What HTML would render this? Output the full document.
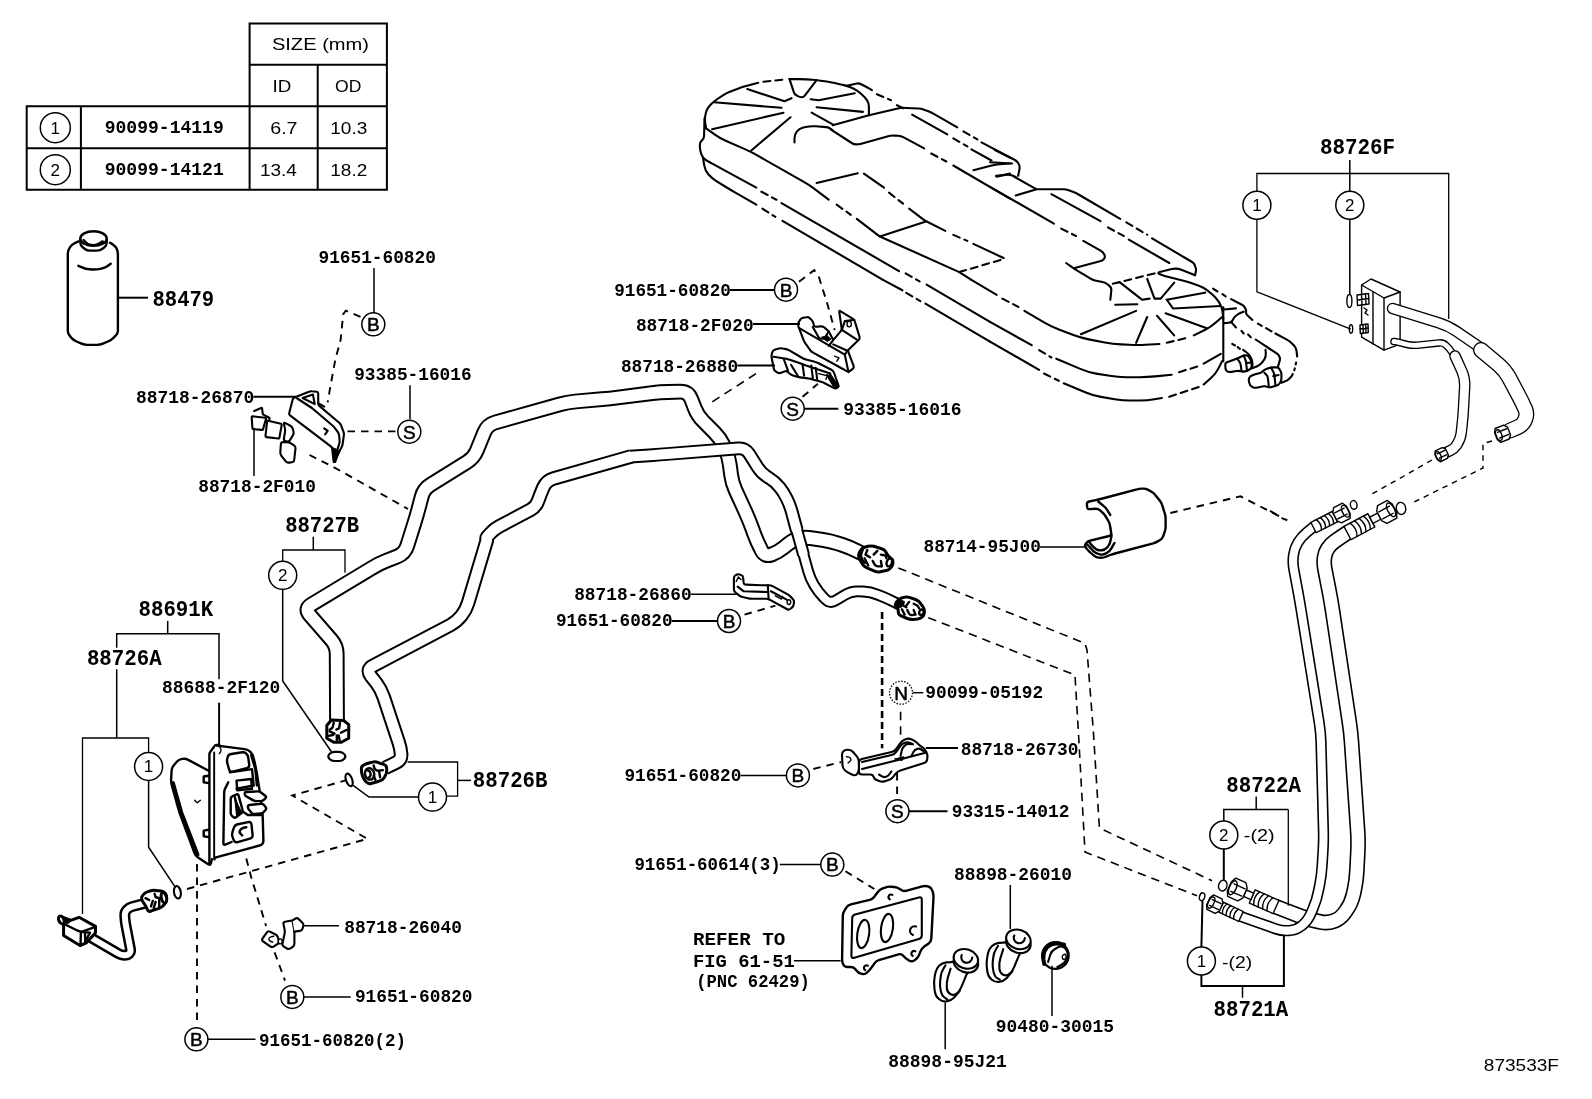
<!DOCTYPE html>
<html><head><meta charset="utf-8"><title>Parts diagram 873533F</title>
<style>
html,body{margin:0;padding:0;background:#fff;}
body{width:1592px;height:1099px;overflow:hidden;font-family:"Liberation Sans",sans-serif;}
svg{display:block;will-change:transform;}
text{fill:#000;}
.s{font-family:"Liberation Mono",monospace;font-weight:bold;font-size:18.6px;}
.b{font-family:"Liberation Mono",monospace;font-weight:bold;font-size:21.5px;}
.r{font-family:"Liberation Mono",monospace;font-weight:bold;font-size:19px;}
.n{font-family:"Liberation Sans",sans-serif;font-size:17px;}
.ct{font-family:"Liberation Sans",sans-serif;font-size:19px;stroke:#000;stroke-width:0.5;}
.cb{font-family:"Liberation Sans",sans-serif;font-size:17px;}
.l{fill:none;stroke:#000;stroke-width:1.5;}
.t{fill:none;stroke:#000;stroke-width:2;}
.g{fill:none;stroke:#000;stroke-width:1.3;}
.c{fill:#fff;stroke:#000;stroke-width:1.5;}
.cN{stroke-dasharray:1.5 1.5;stroke-width:1.3;}
.p{fill:none;stroke:#000;stroke-width:2.1;stroke-linejoin:round;stroke-linecap:round;}

.q{fill:none;stroke:#000;stroke-width:1.4;stroke-linejoin:round;stroke-linecap:round;}
.w{fill:#fff;stroke:#000;stroke-width:2.1;stroke-linejoin:round;stroke-linecap:round;}
.w.q{fill:#fff;stroke-width:1.4;}
.k{fill:#000;stroke:#000;stroke-width:1;}
.hv{stroke-width:2.4;}
.hv3{stroke-width:3;}
.t3{fill:none;stroke:#000;stroke-width:4;stroke-linecap:round;}
.dsh{stroke-dasharray:7 5;}
.dsh2{stroke-dasharray:2 4;}
.dd2{stroke-dasharray:12 5 3 5;}
.d{fill:none;stroke:#000;stroke-width:1.9;stroke-dasharray:7.5 6;}
.d2{fill:none;stroke:#000;stroke-width:1.6;stroke-dasharray:8.5 6;}
.d3{fill:none;stroke:#000;stroke-width:1.4;stroke-dasharray:5.5 5;}
.dh{fill:none;stroke:#000;stroke-width:2.6;stroke-dasharray:7 4;}
.dd{fill:none;stroke:#000;stroke-width:1.8;stroke-dasharray:16 5 4 5;}
</style></head><body>
<svg width="1592" height="1099" viewBox="0 0 1592 1099">
<rect x="0" y="0" width="1592" height="1099" fill="#fff"/>
<!-- p_10_tubes.py -->
<g id="tubes">
<path d="M337.0,721.0 L336.7,654.0 Q336.7,646.0 331.5,640.0 L309.7,614.8 Q304.5,608.8 311.3,604.6 L372.0,567.9 Q378.8,563.7 386.2,560.8 L397.4,556.4 Q404.8,553.5 407.2,545.9 L414.6,522.3 Q417.0,514.7 419.0,507.0 L421.7,496.7 Q423.7,489.0 430.5,484.8 L467.1,462.0 Q473.9,457.8 476.9,450.4 L484.4,432.1 Q487.4,424.7 495.1,422.5 L559.7,404.4 Q567.4,402.2 575.4,401.5 L602.0,399.2 Q610.0,398.5 617.9,397.5 L652.1,393.1 Q660.0,392.1 668.0,392.0 L680.4,391.7 Q688.4,391.6 691.2,399.1 L694.7,408.0 Q697.5,415.5 703.2,421.1 L714.6,432.6 Q720.3,438.2 723.7,445.5 L725.3,449.1 Q728.7,456.4 729.7,464.3 L731.1,474.7 Q732.1,482.6 735.4,489.9 L745.4,511.7 Q748.7,519.0 751.5,526.5 L754.3,534.2 Q757.1,541.7 760.8,548.8 L761.7,550.7 Q765.0,557.0 771.6,554.5 L771.6,554.5 Q778.3,552.0 783.8,547.5 L788.3,543.9 Q793.0,540.0 799.0,538.6 L799.0,538.6 Q804.9,537.2 810.9,538.1 L822.7,539.9 Q830.6,541.1 838.2,543.6 L842.3,544.9 Q849.9,547.4 857.0,551.0 L868.0,556.5" fill="none" stroke="#000" stroke-width="15.8" stroke-linejoin="round" stroke-linecap="butt"/><path d="M337.0,721.0 L336.7,654.0 Q336.7,646.0 331.5,640.0 L309.7,614.8 Q304.5,608.8 311.3,604.6 L372.0,567.9 Q378.8,563.7 386.2,560.8 L397.4,556.4 Q404.8,553.5 407.2,545.9 L414.6,522.3 Q417.0,514.7 419.0,507.0 L421.7,496.7 Q423.7,489.0 430.5,484.8 L467.1,462.0 Q473.9,457.8 476.9,450.4 L484.4,432.1 Q487.4,424.7 495.1,422.5 L559.7,404.4 Q567.4,402.2 575.4,401.5 L602.0,399.2 Q610.0,398.5 617.9,397.5 L652.1,393.1 Q660.0,392.1 668.0,392.0 L680.4,391.7 Q688.4,391.6 691.2,399.1 L694.7,408.0 Q697.5,415.5 703.2,421.1 L714.6,432.6 Q720.3,438.2 723.7,445.5 L725.3,449.1 Q728.7,456.4 729.7,464.3 L731.1,474.7 Q732.1,482.6 735.4,489.9 L745.4,511.7 Q748.7,519.0 751.5,526.5 L754.3,534.2 Q757.1,541.7 760.8,548.8 L761.7,550.7 Q765.0,557.0 771.6,554.5 L771.6,554.5 Q778.3,552.0 783.8,547.5 L788.3,543.9 Q793.0,540.0 799.0,538.6 L799.0,538.6 Q804.9,537.2 810.9,538.1 L822.7,539.9 Q830.6,541.1 838.2,543.6 L842.3,544.9 Q849.9,547.4 857.0,551.0 L868.0,556.5" fill="none" stroke="#fff" stroke-width="11.8" stroke-linejoin="round" stroke-linecap="butt"/>
<path d="M385.0,768.0 L396.1,762.6 Q401.5,760.0 401.1,754.0 L401.1,754.0 Q400.6,748.1 398.7,742.4 L383.7,697.1 Q381.2,689.5 376.4,683.1 L370.8,675.9 Q366.0,669.5 373.1,665.8 L450.3,625.1 Q456.8,621.6 461.4,615.8 L461.4,615.8 Q466.0,610.0 468.1,602.9 L486.6,541.1 Q486.9,540.0 486.6,538.9 L486.6,538.9 Q486.4,537.8 487.1,537.0 L490.2,533.5 Q494.0,529.2 499.1,526.5 L530.6,509.7 Q536.2,506.7 538.2,500.6 L538.2,500.6 Q540.3,494.6 542.8,488.7 L543.3,487.6 Q546.3,480.6 553.6,478.5 L631.2,456.4" fill="none" stroke="#000" stroke-width="14.6" stroke-linejoin="round" stroke-linecap="butt"/>
<path d="M630.0,456.7 L653.0,455.1 Q660.0,454.6 667.0,454.0 L738.3,448.4 Q745.3,447.8 749.1,453.7 L757.9,467.6 Q761.7,473.5 767.7,477.1 L768.9,477.9 Q774.9,481.5 779.3,487.0 L779.6,487.3 Q784.0,492.8 787.0,499.1 L787.0,499.1 Q790.1,505.4 791.9,512.2 L796.8,530.4" fill="none" stroke="#000" stroke-width="13.8" stroke-linejoin="round" stroke-linecap="butt"/>
<path d="M796.5,529.2 L803.6,554.8" fill="none" stroke="#000" stroke-width="12.8" stroke-linejoin="round" stroke-linecap="butt"/>
<path d="M803.3,553.7 L808.2,571.4 Q810.1,578.1 813.6,584.1 L814.6,585.8 Q818.1,591.8 823.0,596.8 L825.1,599.0 Q830.0,604.0 836.0,600.3 L845.1,594.8 Q851.1,591.1 858.1,591.4 L863.4,591.5 Q870.4,591.8 876.9,594.4 L881.0,596.0 Q887.5,598.6 893.7,601.8 L900.0,605.0" fill="none" stroke="#000" stroke-width="11.8" stroke-linejoin="round" stroke-linecap="butt"/>
<path d="M385.0,768.0 L396.1,762.6 Q401.5,760.0 401.1,754.0 L401.1,754.0 Q400.6,748.1 398.7,742.4 L383.7,697.1 Q381.2,689.5 376.4,683.1 L370.8,675.9 Q366.0,669.5 373.1,665.8 L450.3,625.1 Q456.8,621.6 461.4,615.8 L461.4,615.8 Q466.0,610.0 468.1,602.9 L486.6,541.1 Q486.9,540.0 486.6,538.9 L486.6,538.9 Q486.4,537.8 487.1,537.0 L490.2,533.5 Q494.0,529.2 499.1,526.5 L530.6,509.7 Q536.2,506.7 538.2,500.6 L538.2,500.6 Q540.3,494.6 542.8,488.7 L543.3,487.6 Q546.3,480.6 553.6,478.5 L631.2,456.4" fill="none" stroke="#fff" stroke-width="10.6" stroke-linejoin="round" stroke-linecap="butt"/>
<path d="M630.0,456.7 L653.0,455.1 Q660.0,454.6 667.0,454.0 L738.3,448.4 Q745.3,447.8 749.1,453.7 L757.9,467.6 Q761.7,473.5 767.7,477.1 L768.9,477.9 Q774.9,481.5 779.3,487.0 L779.6,487.3 Q784.0,492.8 787.0,499.1 L787.0,499.1 Q790.1,505.4 791.9,512.2 L796.8,530.4" fill="none" stroke="#fff" stroke-width="9.8" stroke-linejoin="round" stroke-linecap="butt"/>
<path d="M796.5,529.2 L803.6,554.8" fill="none" stroke="#fff" stroke-width="8.8" stroke-linejoin="round" stroke-linecap="butt"/>
<path d="M803.3,553.7 L808.2,571.4 Q810.1,578.1 813.6,584.1 L814.6,585.8 Q818.1,591.8 823.0,596.8 L825.1,599.0 Q830.0,604.0 836.0,600.3 L845.1,594.8 Q851.1,591.1 858.1,591.4 L863.4,591.5 Q870.4,591.8 876.9,594.4 L881.0,596.0 Q887.5,598.6 893.7,601.8 L900.0,605.0" fill="none" stroke="#fff" stroke-width="7.800000000000001" stroke-linejoin="round" stroke-linecap="butt"/>
</g>
<!-- p_20_right.py -->
<g id="right">
<path d="M1348.6,532.0 L1346.2,533.5 Q1343.9,535.0 1341.6,536.6 L1334.3,541.7 Q1330.3,544.5 1327.7,548.6 L1327.7,548.6 Q1325.0,552.7 1324.5,557.6 L1324.4,558.0 Q1323.8,563.4 1324.8,568.7 L1329.0,590.2 Q1330.9,600.0 1332.4,609.9 L1349.3,722.1 Q1350.8,732.0 1351.5,742.0 L1357.6,830.0 Q1358.3,840.0 1357.9,850.0 L1356.9,870.0 Q1356.5,880.0 1354.4,889.8 L1353.4,894.3 Q1351.4,903.5 1345.8,911.1 L1344.2,913.3 Q1340.3,918.7 1334.0,921.0 L1334.0,921.0 Q1327.8,923.3 1321.3,922.1 L1318.9,921.6 Q1310.0,920.0 1301.6,916.7 L1274.0,906.0" fill="none" stroke="#000" stroke-width="15.8" stroke-linejoin="round" stroke-linecap="butt"/><path d="M1348.6,532.0 L1346.2,533.5 Q1343.9,535.0 1341.6,536.6 L1334.3,541.7 Q1330.3,544.5 1327.7,548.6 L1327.7,548.6 Q1325.0,552.7 1324.5,557.6 L1324.4,558.0 Q1323.8,563.4 1324.8,568.7 L1329.0,590.2 Q1330.9,600.0 1332.4,609.9 L1349.3,722.1 Q1350.8,732.0 1351.5,742.0 L1357.6,830.0 Q1358.3,840.0 1357.9,850.0 L1356.9,870.0 Q1356.5,880.0 1354.4,889.8 L1353.4,894.3 Q1351.4,903.5 1345.8,911.1 L1344.2,913.3 Q1340.3,918.7 1334.0,921.0 L1334.0,921.0 Q1327.8,923.3 1321.3,922.1 L1318.9,921.6 Q1310.0,920.0 1301.6,916.7 L1274.0,906.0" fill="none" stroke="#fff" stroke-width="12.600000000000001" stroke-linejoin="round" stroke-linecap="butt"/>
<path d="M1313.7,526.7 L1306.5,532.6 Q1301.4,536.8 1298.0,542.4 L1298.0,542.4 Q1294.5,548.0 1293.6,554.5 L1293.5,555.1 Q1292.5,562.2 1293.8,569.3 L1297.7,590.2 Q1299.5,600.0 1301.1,609.9 L1319.1,722.1 Q1320.7,732.0 1321.0,742.0 L1323.4,830.0 Q1323.7,840.0 1323.1,850.0 L1322.2,864.5 Q1321.6,874.5 1319.8,884.3 L1318.6,890.2 Q1316.8,900.0 1312.8,909.2 L1310.6,914.2 Q1307.8,920.8 1302.2,925.3 L1302.2,925.3 Q1296.7,929.8 1289.6,930.5 L1289.5,930.5 Q1282.3,931.2 1275.5,928.8 L1239.4,916.0" fill="none" stroke="#000" stroke-width="11.3" stroke-linejoin="round" stroke-linecap="butt"/><path d="M1313.7,526.7 L1306.5,532.6 Q1301.4,536.8 1298.0,542.4 L1298.0,542.4 Q1294.5,548.0 1293.6,554.5 L1293.5,555.1 Q1292.5,562.2 1293.8,569.3 L1297.7,590.2 Q1299.5,600.0 1301.1,609.9 L1319.1,722.1 Q1320.7,732.0 1321.0,742.0 L1323.4,830.0 Q1323.7,840.0 1323.1,850.0 L1322.2,864.5 Q1321.6,874.5 1319.8,884.3 L1318.6,890.2 Q1316.8,900.0 1312.8,909.2 L1310.6,914.2 Q1307.8,920.8 1302.2,925.3 L1302.2,925.3 Q1296.7,929.8 1289.6,930.5 L1289.5,930.5 Q1282.3,931.2 1275.5,928.8 L1239.4,916.0" fill="none" stroke="#fff" stroke-width="8.100000000000001" stroke-linejoin="round" stroke-linecap="butt"/>
<g transform="translate(1313.5 527.5) rotate(-27.0)"><path class="w q" d="M0,-5.8 L24.0,-5.8 L24.0,5.8 L0,5.8 Z"/><path class="q" d="M6.0,-5.8 Q9.2,0 6.0,5.8"/><path class="q" d="M10.5,-5.8 Q13.7,0 10.5,5.8"/><path class="q" d="M15.0,-5.8 Q18.2,0 15.0,5.8"/><path class="q" d="M19.5,-5.8 Q22.7,0 19.5,5.8"/><path class="w q" d="M24.0,-4.7 L27.0,-8.5 L36.8,-8.5 L39.0,-4.2 L39.0,4.2 L36.8,8.5 L27.0,8.5 L24.0,4.7 Z"/><path class="q" d="M25.5,-3.4 L36.0,-3.4 M25.5,3.4 L36.0,3.4"/><ellipse class="q" cx="35.7" cy="0" rx="3.0" ry="6.4"/></g>
<g transform="translate(1347.5 533.0) rotate(-28.0)"><path class="w q" d="M0,-7.5 L27.0,-7.5 L27.0,7.5 L0,7.5 Z"/><path class="q" d="M6.8,-7.5 Q10.9,0 6.8,7.5"/><path class="q" d="M11.8,-7.5 Q16.0,0 11.8,7.5"/><path class="q" d="M16.9,-7.5 Q21.1,0 16.9,7.5"/><path class="q" d="M21.9,-7.5 Q26.1,0 21.9,7.5"/><path class="w q" d="M27.0,-3.5 L36.0,-3.5 L36.0,3.5 L27.0,3.5 Z"/><path class="w q" d="M36.0,-5.5 L39.4,-10.0 L50.5,-10.0 L53.0,-5.0 L53.0,5.0 L50.5,10.0 L39.4,10.0 L36.0,5.5 Z"/><path class="q" d="M37.7,-4.0 L49.6,-4.0 M37.7,4.0 L49.6,4.0"/><ellipse class="q" cx="49.3" cy="0" rx="3.4" ry="7.5"/></g>
<ellipse class="w q" cx="1353.7" cy="504.9" rx="3.3" ry="4.4" transform="rotate(-10 1353.7 504.9)"/>
<ellipse class="w q" cx="1401.0" cy="508.4" rx="4.7" ry="6.1" transform="rotate(-10 1401.0 508.4)"/>
<g transform="translate(1276.0 907.0) rotate(204.0)"><path class="w q" d="M0,-7.2 L26.0,-7.2 L26.0,7.2 L0,7.2 Z"/><path class="q" d="M6.5,-7.2 Q10.6,0 6.5,7.2"/><path class="q" d="M11.4,-7.2 Q15.4,0 11.4,7.2"/><path class="q" d="M16.2,-7.2 Q20.3,0 16.2,7.2"/><path class="q" d="M21.1,-7.2 Q25.2,0 21.1,7.2"/><path class="w q" d="M26.0,-3.5 L34.0,-3.5 L34.0,3.5 L26.0,3.5 Z"/><path class="w q" d="M34.0,-5.5 L37.4,-10.0 L48.5,-10.0 L51.0,-5.0 L51.0,5.0 L48.5,10.0 L37.4,10.0 L34.0,5.5 Z"/><path class="q" d="M35.7,-4.0 L47.6,-4.0 M35.7,4.0 L47.6,4.0"/><ellipse class="q" cx="47.3" cy="0" rx="3.4" ry="7.5"/></g>
<g transform="translate(1241.0 916.5) rotate(205.0)"><path class="w q" d="M0,-5.5 L22.0,-5.5 L22.0,5.5 L0,5.5 Z"/><path class="q" d="M5.5,-5.5 Q8.6,0 5.5,5.5"/><path class="q" d="M9.6,-5.5 Q12.7,0 9.6,5.5"/><path class="q" d="M13.8,-5.5 Q16.8,0 13.8,5.5"/><path class="q" d="M17.9,-5.5 Q21.0,0 17.9,5.5"/><path class="w q" d="M22.0,-4.4 L24.8,-8.0 L33.9,-8.0 L36.0,-4.0 L36.0,4.0 L33.9,8.0 L24.8,8.0 L22.0,4.4 Z"/><path class="q" d="M23.4,-3.2 L33.2,-3.2 M23.4,3.2 L33.2,3.2"/><ellipse class="q" cx="32.9" cy="0" rx="2.8" ry="6.0"/></g>
<ellipse class="w q" cx="1222.8" cy="885.6" rx="4.2" ry="5.5" transform="rotate(15 1222.8 885.6)"/>
<ellipse class="w q" cx="1202.1" cy="896.7" rx="2.6" ry="4" transform="rotate(15 1202.1 896.7)"/>
<path class="w q" d="M1361.6,285.0 L1371.0,279.0 L1400.1,292.0 L1400.1,344.1 L1384.0,350.1 L1361.6,337.1 Z"/>
<path class="q" d="M1361.6,285.0 L1384.0,298.0 L1400.1,292.0"/>
<path class="q" d="M1384.0,298.0 L1384.0,350.1"/>
<path class="q" d="M1373.0,292.0 L1373.0,344.0"/>
<path d="M1392.5,308.5 L1438.5,322.7 Q1448.1,325.6 1456.4,331.3 L1483.0,349.5" fill="none" stroke="#000" stroke-width="11.5" stroke-linejoin="round" stroke-linecap="round"/><path d="M1392.5,308.5 L1438.5,322.7 Q1448.1,325.6 1456.4,331.3 L1483.0,349.5" fill="none" stroke="#fff" stroke-width="8.9" stroke-linejoin="round" stroke-linecap="round"/>
<path d="M1481.0,350.0 L1498.2,364.3 Q1505.1,370.1 1509.3,378.0 L1519.1,396.4 Q1522.2,402.1 1524.8,408.1 L1525.1,408.6 Q1527.5,414.0 1525.2,419.5 L1525.2,419.5 Q1523.0,425.0 1517.5,427.3 L1510.0,430.5" fill="none" stroke="#000" stroke-width="16" stroke-linejoin="round" stroke-linecap="round"/><path d="M1481.0,350.0 L1498.2,364.3 Q1505.1,370.1 1509.3,378.0 L1519.1,396.4 Q1522.2,402.1 1524.8,408.1 L1525.1,408.6 Q1527.5,414.0 1525.2,419.5 L1525.2,419.5 Q1523.0,425.0 1517.5,427.3 L1510.0,430.5" fill="none" stroke="#fff" stroke-width="13.4" stroke-linejoin="round" stroke-linecap="round"/>
<path d="M1394.0,341.5 L1395.0,341.6 Q1396.0,341.7 1397.0,341.9 L1407.1,344.5 Q1412.0,345.7 1417.0,345.2 L1439.0,342.9 Q1443.0,342.5 1446.0,345.2 L1446.0,345.2 Q1449.0,348.0 1451.3,351.3 L1456.0,358.0" fill="none" stroke="#000" stroke-width="7.5" stroke-linejoin="round" stroke-linecap="round"/><path d="M1394.0,341.5 L1395.0,341.6 Q1396.0,341.7 1397.0,341.9 L1407.1,344.5 Q1412.0,345.7 1417.0,345.2 L1439.0,342.9 Q1443.0,342.5 1446.0,345.2 L1446.0,345.2 Q1449.0,348.0 1451.3,351.3 L1456.0,358.0" fill="none" stroke="#fff" stroke-width="4.9" stroke-linejoin="round" stroke-linecap="round"/>
<path d="M1455.0,356.0 L1461.8,370.8 Q1465.1,378.1 1464.7,386.1 L1463.5,408.1 Q1463.1,416.1 1462.2,424.0 L1461.2,433.2 Q1460.5,439.1 1457.2,444.1 L1456.4,445.4 Q1454.0,449.0 1450.0,450.8 L1446.0,452.5" fill="none" stroke="#000" stroke-width="11.5" stroke-linejoin="round" stroke-linecap="round"/><path d="M1455.0,356.0 L1461.8,370.8 Q1465.1,378.1 1464.7,386.1 L1463.5,408.1 Q1463.1,416.1 1462.2,424.0 L1461.2,433.2 Q1460.5,439.1 1457.2,444.1 L1456.4,445.4 Q1454.0,449.0 1450.0,450.8 L1446.0,452.5" fill="none" stroke="#fff" stroke-width="8.9" stroke-linejoin="round" stroke-linecap="round"/>
<path class="w q" d="M1357.0,295.0 L1368.5,293.5 L1369.0,304.0 L1357.5,305.5 Z"/>
<path class="q" d="M1361.5,294.5 L1362,305 M1365.5,294 L1366,304.5 M1358,300 L1369,298.5"/>
<path class="w q" d="M1360.0,325.0 L1368.0,324.0 L1368.3,332.5 L1360.3,333.5 Z"/>
<path class="q" d="M1363,324.7 L1363.3,333 M1365.7,324.3 L1366,332.7 M1360,329 L1368,328"/>
<path class="q" d="M1364,308 l3,2 l-2,3 l3,2"/>
<ellipse class="w q" cx="1349.4" cy="301.0" rx="2.5" ry="6.5" transform="rotate(0 1349.4 301.0)"/>
<ellipse class="w q" cx="1351.0" cy="329.0" rx="1.7" ry="4.2" transform="rotate(0 1351.0 329.0)"/>
<g transform="translate(1509.0 431.0) rotate(158.0)"><path class="w q" d="M0.0,-4.1 L2.8,-7.5 L11.9,-7.5 L14.0,-3.8 L14.0,3.8 L11.9,7.5 L2.8,7.5 L0.0,4.1 Z"/><path class="q" d="M1.4,-3.0 L11.2,-3.0 M1.4,3.0 L11.2,3.0"/><ellipse class="q" cx="10.9" cy="0" rx="2.8" ry="5.6"/></g>
<g transform="translate(1447.0 452.0) rotate(155.0)"><path class="w q" d="M0.0,-3.3 L2.4,-6.0 L10.2,-6.0 L12.0,-3.0 L12.0,3.0 L10.2,6.0 L2.4,6.0 L0.0,3.3 Z"/><path class="q" d="M1.2,-2.4 L9.6,-2.4 M1.2,2.4 L9.6,2.4"/><ellipse class="q" cx="9.4" cy="0" rx="2.4" ry="4.5"/></g>
</g>
<!-- p_30_tank.py -->
<g id="tank">
<path class="p" d="M706.1,128.3 L705.1,122.2 Q704.5,118.3 705.5,114.4 L706.1,112.1 Q707.1,108.2 709.9,105.4 L711.3,104.0 Q714.1,101.2 717.4,99.0 L722.9,95.4 Q726.2,93.2 729.9,91.8 L738.5,88.5 Q742.3,87.1 746.1,86.1 L758.3,82.7"/>
<path class="p dsh" d="M763.4,81.7 L784.5,79.5"/>
<path class="p" d="M789.5,79.1 L798.6,79.1 Q802.6,79.1 806.6,79.4 L812.6,79.8 Q816.6,80.1 820.6,80.7 L826.7,81.5 Q830.7,82.1 834.6,83.0 L842.9,84.9 Q846.8,85.7 850.4,87.3 L853.2,88.5 Q856.8,90.2 859.8,92.8 L862.1,94.8 Q864.9,97.2 866.9,100.2 L866.9,100.2 Q868.9,103.2 868.9,106.8 L868.9,115.3"/>
<path class="p" d="M789.5,79.1 L793.9,92.3 Q794.5,94.2 796.2,95.2 L797.8,96.2 Q799.5,97.2 801.5,97.2 L801.6,97.2 Q803.6,97.2 804.8,95.6 L816.6,80.1"/>
<path class="p" d="M846.8,85.7 L856.9,83.5 Q858.8,83.1 860.6,84.0 L865.1,86.2 Q866.9,87.1 868.6,88.2 L871.9,90.2"/>
<path class="p dsh" d="M876.9,94.2 L891.0,100.2"/>
<path class="p" d="M897.0,105.2 L903.1,108.2"/>
<path class="p" d="M747.3,89.1 L784.5,101.2 L791.5,98.2"/>
<path class="p" d="M714.1,102.2 L781.5,107.8"/>
<path class="p" d="M712.1,129.3 L783.5,112.7"/>
<path class="p" d="M751.3,150.5 L790.5,117.3"/>
<path class="p" d="M810.6,99.2 L818.6,100.2 L854.8,93.2"/>
<path class="p" d="M816.6,107.2 L862.9,111.9"/>
<path class="p" d="M811.6,112.7 L832.7,124.3"/>
<path class="p" d="M832.7,125.3 L868.9,115.3 L901.1,107.8"/>
<path class="p" d="M901.1,107.8 L918.2,108.5 Q921.2,108.6 924.0,109.7 L928.4,111.2 Q931.2,112.3 933.8,113.8 L957.3,127.3"/>
<path class="p dsh" d="M963.4,131.4 L977.4,139.4"/>
<path class="p" d="M981.5,142.4 L1010.0,157.5"/>
<path class="p" d="M912.1,114.7 L947.3,134.4"/>
<path class="p dsh" d="M953.3,138.4 L967.4,146.4"/>
<path class="p" d="M971.4,149.4 L991.5,160.5"/>
<path class="p" d="M794.5,142.4 L794.5,138.3 Q794.5,134.4 797.0,131.4 L797.0,131.4 Q799.5,128.3 803.4,127.5 L805.7,127.0 Q810.6,125.9 815.6,126.3 L826.2,127.1 Q828.7,127.3 830.7,128.8 L832.7,130.4"/>
<path class="p" d="M830.7,129.3 L851.7,143.0 Q853.8,144.4 856.3,144.4 L856.3,144.4 Q858.8,144.4 861.3,143.7 L888.1,136.2 Q891.0,135.4 894.0,135.6 L898.1,135.8 Q901.1,136.0 903.7,137.4 L924.2,148.4"/>
<path class="p dsh" d="M931.2,153.5 L946.3,161.5"/>
<path class="p" d="M953.3,165.5 L1010.0,198.7"/>
<path class="p" d="M706.1,128.3 L715.3,134.9 Q720.2,138.4 725.7,140.8 L744.8,149.1 Q750.3,151.5 755.5,154.4 L803.4,181.7 Q808.6,184.6 813.4,188.2 L828.7,199.7"/>
<path class="p dsh" d="M836.7,204.7 L850.8,214.8"/>
<path class="p" d="M856.8,218.8 L878.9,235.9"/>
<path class="p" d="M704.5,118.3 L704.1,135.4 Q704.1,138.4 701.9,140.4 L701.9,140.4 Q699.6,142.4 699.8,145.4 L699.9,147.5 Q700.1,150.5 701.1,153.3 L702.0,155.7 Q703.1,158.5 705.7,160.0 L707.5,161.0 Q710.1,162.5 712.7,163.9 L756.3,187.6"/>
<path class="p dsh" d="M761.4,191.7 L776.4,199.7"/>
<path class="p" d="M781.5,203.1 L899.0,271.1"/>
<path class="p" d="M703.1,158.5 L704.3,165.6 Q705.1,170.6 708.4,174.3 L708.8,174.8 Q712.1,178.6 716.4,181.2 L725.9,187.0 Q730.2,189.6 734.5,192.1 L756.3,204.7"/>
<path class="p dsh" d="M762.4,208.7 L775.4,216.8"/>
<path class="p" d="M782.5,220.8 L883.0,279.9"/>
<path class="p" d="M816.6,183.0 L857.8,173.2"/>
<path class="p" d="M863.9,173.6 L884.0,187.6"/>
<path class="p dsh" d="M889.0,192.7 L903.1,203.7"/>
<path class="p" d="M909.1,208.7 L925.2,220.8"/>
<path class="p" d="M879.9,236.5 L925.2,221.8"/>
<path class="p" d="M925.2,220.8 L945.3,230.9"/>
<path class="p dsh" d="M953.3,234.9 L967.4,240.9"/>
<path class="p" d="M973.4,243.9 L1003.6,258.0"/>
<path class="p" d="M879.9,236.5 L959.3,272.1 L971.4,279.9"/>
<path class="p dsh" d="M959.3,272.1 L1003.6,259.0"/>
<path class="p" d="M973.4,170.2 L991.7,165.5 Q995.5,164.5 999.5,164.2 L1010.0,163.5"/>
<path class="p" d="M996.5,176.6 L1010.0,173.6"/>
<path class="p" d="M994.9,150.0 L1014.5,159.8 Q1017.0,161.1 1018.5,163.5 L1018.5,163.5 Q1020.0,166.0 1019.5,168.8 L1018.2,175.8"/>
<path class="p" d="M1014.6,177.0 L1034.9,188.3 Q1036.7,189.3 1038.7,189.3 L1064.1,189.3 Q1066.1,189.3 1068.0,190.0 L1074.1,192.3 Q1076.0,193.0 1077.7,194.0 L1120.2,218.8"/>
<path class="p dsh" d="M1126.3,222.4 L1147.2,234.7"/>
<path class="p" d="M1152.1,238.4 L1192.1,262.0 Q1193.8,263.0 1194.6,264.8 L1195.5,267.2 Q1196.3,269.1 1195.9,271.1 L1195.1,275.2"/>
<path class="p" d="M990.0,162.3 L1012.1,163.5"/>
<path class="p" d="M996.1,175.8 L1007.7,174.7 Q1009.6,174.6 1011.5,175.3 L1015.8,177.0"/>
<path class="p" d="M1015.8,195.4 L1036.7,189.3"/>
<path class="p" d="M1051.4,194.2 L1100.5,221.2"/>
<path class="p dsh" d="M1107.9,227.4 L1123.8,236.0"/>
<path class="p" d="M1128.8,239.6 L1169.3,263.0"/>
<path class="p" d="M990.0,186.8 L1053.9,223.7"/>
<path class="p dsh" d="M1061.2,228.6 L1076.0,236.0"/>
<path class="p" d="M1083.3,240.9 L1100.6,250.6 Q1103.0,251.9 1104.2,254.4 L1104.4,254.8 Q1105.4,256.8 1104.2,258.7 L1104.2,258.7 Q1103.0,260.5 1100.8,261.1 L1074.7,267.9"/>
<path class="p" d="M1066.1,263.0 L1072.3,267.4 Q1074.7,269.1 1077.3,270.6 L1090.6,278.6 Q1093.1,280.2 1096.1,280.7 L1102.5,282.0 Q1105.4,282.6 1107.8,284.5 L1109.2,285.7 Q1111.6,287.5 1111.3,290.5 L1110.3,299.8"/>
<path class="p dsh" d="M1112.8,283.8 L1157.0,272.8"/>
<path class="p" d="M1195.1,275.2 L1181.3,269.7 Q1176.6,267.9 1171.8,269.1 L1159.7,272.1 Q1157.0,272.8 1159.4,274.0 L1159.4,274.0 Q1161.9,275.2 1164.6,275.9 L1181.6,280.2 Q1186.5,281.4 1191.2,283.1 L1198.9,285.8 Q1203.7,287.5 1207.6,290.6 L1212.0,294.2 Q1215.9,297.3 1218.6,301.6 L1219.4,302.9 Q1222.1,307.2 1222.6,312.1 L1223.3,319.4"/>
<path class="p" d="M1024.4,310.9 L1044.5,322.7 Q1051.4,326.8 1058.9,329.6 L1073.4,335.1 Q1080.9,337.9 1088.7,339.4 L1104.9,342.5 Q1112.8,344.0 1120.8,344.4 L1129.4,344.8 Q1137.3,345.2 1145.3,344.8 L1159.4,344.0"/>
<path class="p dsh" d="M1166.8,342.8 L1186.5,337.9"/>
<path class="p" d="M1193.8,335.4 L1205.7,329.5 Q1211.0,326.8 1215.5,322.8 L1222.1,317.0"/>
<path class="p" d="M1120.2,282.6 L1142.3,299.8 L1149.6,298.6"/>
<path class="p" d="M1147.2,278.9 L1154.5,298.6 L1160.7,298.6 L1174.2,282.6"/>
<path class="t" d="M1206.1,292.4 L1166.8,299.8 L1173.0,308.4 L1220.8,305.9"/>
<path class="p" d="M1165.6,313.3 L1206.1,328.0"/>
<path class="p" d="M1157.0,315.8 L1174.2,335.4"/>
<path class="p" d="M1147.2,317.0 L1136.1,342.8"/>
<path class="p" d="M1136.1,310.9 L1080.9,334.2"/>
<path class="p" d="M1115.2,304.7 L1137.3,304.2"/>
<path class="p" d="M971.4,279.9 L996.7,294.8"/>
<path class="p dsh" d="M1002.4,298.6 L1018.3,306.9"/>
<path class="p dsh" d="M905.6,273.4 L919.6,281.4"/>
<path class="p" d="M926.6,284.6 L990.0,321.9"/>
<path class="p" d="M883.0,279.9 L902.4,290.3"/>
<path class="p dsh" d="M906.2,292.9 L920.3,301.1"/>
<path class="p" d="M925.4,303.7 L990.0,341.6"/>
<path class="p" d="M990.0,321.9 L1031.7,345.2"/>
<path class="p dsh" d="M1039.1,350.1 L1051.4,357.5"/>
<path class="p" d="M1056.3,358.7 L1080.9,369.1 Q1088.2,372.2 1096.1,373.6 L1109.8,375.8 Q1117.7,377.2 1125.7,377.2 L1139.2,377.2 Q1147.2,377.2 1155.1,376.4 L1171.7,374.7"/>
<path class="p dsh" d="M1179.1,372.2 L1198.7,366.1"/>
<path class="p" d="M1203.7,363.7 L1220.8,353.8"/>
<path class="p" d="M990.0,341.6 L1039.1,369.8"/>
<path class="p dsh" d="M1044.0,373.5 L1058.8,380.8"/>
<path class="p" d="M1063.7,383.3 L1085.8,392.5 Q1093.1,395.6 1101.0,396.9 L1114.7,399.2 Q1122.6,400.5 1130.6,400.5 L1139.7,400.5 Q1147.2,400.5 1154.5,399.3 L1161.9,398.0"/>
<path class="p dsh" d="M1169.3,396.8 L1198.7,387.0"/>
<path class="p" d="M1203.7,384.5 L1211.5,377.5 Q1215.9,373.5 1218.6,368.1 L1222.1,361.2"/>
<path class="p" d="M1223.3,307.2 L1223.3,361.2"/>
<path class="p" d="M1213.1,288.7 L1217.5,291.5"/>
<path class="p" d="M1222.4,294.2 L1225.7,296.4"/>
<path class="p" d="M1231.1,299.1 L1241.9,304.7 Q1243.7,305.7 1244.7,307.4 L1245.6,309.1 Q1246.4,310.6 1246.1,312.2 L1246.1,312.2 Q1245.9,313.9 1247.1,315.0 L1252.4,319.9"/>
<path class="p" d="M1224.0,309.5 L1236.0,308.4"/>
<path class="p" d="M1224.6,323.1 L1228.7,322.8 Q1231.7,322.6 1232.8,319.9 L1232.8,319.9 Q1233.9,317.1 1236.3,315.5 L1239.0,313.7 Q1240.4,312.8 1242.1,312.2 L1243.7,311.7"/>
<path class="p" d="M1231.7,322.6 L1236.0,327.5"/>
<path class="p" d="M1241.5,330.8 L1243.7,333.5"/>
<path class="p" d="M1248.1,334.6 L1250.8,337.3"/>
<path class="p" d="M1257.9,323.7 L1261.7,325.9"/>
<path class="p" d="M1266.1,328.1 L1271.5,331.3"/>
<path class="p" d="M1275.4,333.5 L1286.9,339.7 Q1289.6,341.2 1291.7,343.3 L1294.0,345.6 Q1296.1,347.7 1296.5,350.7 L1297.2,356.5"/>
<path class="p dsh2" d="M1296.1,362.5 L1294.5,369.6 L1292.3,375.0"/>
<path class="p" d="M1291.8,376.1 L1289.5,378.4 Q1287.4,380.5 1284.6,381.5 L1281.4,382.7"/>
<path class="p" d="M1255.7,339.5 L1277.0,353.7 Q1278.6,354.8 1279.4,356.7 L1279.5,356.8 Q1280.3,358.6 1279.7,360.6 L1278.1,366.3"/>
<path class="p" d="M1265.5,349.9 L1265.8,353.2 Q1266.1,356.5 1264.4,359.3 L1263.9,360.1 Q1262.3,363.0 1259.5,364.9 L1259.5,364.9 Q1256.8,366.8 1253.6,367.8 L1248.1,369.6"/>
<path class="p" d="M1232.2,343.9 L1235.0,345.5"/>
<path class="p" d="M1237.7,347.2 L1239.9,348.8"/>
<path class="p" d="M1243.1,349.9 L1246.7,352.5 Q1249.2,354.3 1250.5,357.0 L1251.2,358.4 Q1252.4,360.8 1252.4,363.6 L1252.4,366.3"/>
<path class="w" d="M1225.3,365.0 Q1225.1,363.0 1227.0,362.3 L1235.3,359.3 Q1237.1,358.6 1238.9,357.8 L1241.9,356.3 Q1243.7,355.4 1245.7,355.4 L1246.1,355.4 Q1248.1,355.4 1249.1,357.1 L1250.3,359.1 Q1251.3,360.8 1251.5,362.8 L1251.7,365.4 Q1251.9,367.4 1250.4,368.7 L1249.6,369.4 Q1248.1,370.7 1246.1,371.1 L1244.6,371.4 Q1242.6,371.8 1240.7,371.3 L1240.2,371.1 Q1238.2,370.7 1236.3,371.0 L1231.5,371.9 Q1229.5,372.3 1227.7,371.5 L1227.5,371.4 Q1225.7,370.7 1225.5,368.7 Z"/>
<path class="p" d="M1237.1,358.6 L1239.2,361.4 Q1240.4,363.0 1240.7,365.0 L1241.5,370.7"/>
<path class="p" d="M1243.7,355.4 L1245.1,359.0 Q1245.9,360.8 1246.1,362.8 L1247.0,370.7"/>
<path class="p" d="M1247.0,363.0 L1251.3,362.5"/>
<path class="w" d="M1248.9,378.9 Q1249.2,377.2 1250.5,376.3 L1250.8,376.1 Q1252.4,375.0 1254.3,374.6 L1259.2,373.3 Q1261.2,372.8 1262.6,371.4 L1263.0,371.0 Q1264.4,369.6 1266.3,368.9 L1269.1,368.0 Q1271.0,367.4 1273.0,367.4 L1276.6,367.4 Q1278.6,367.4 1279.5,369.2 L1280.5,371.1 Q1281.4,372.8 1281.4,374.8 L1281.4,378.5 Q1281.4,380.5 1280.3,382.2 L1279.7,383.2 Q1278.6,384.9 1276.7,385.5 L1271.8,387.0 Q1269.9,387.6 1268.0,386.9 L1267.4,386.7 Q1265.5,386.0 1263.6,386.3 L1256.6,387.7 Q1254.6,388.1 1252.8,387.2 L1252.0,386.8 Q1250.2,386.0 1249.7,384.0 L1249.1,382.1 Q1248.6,380.5 1248.9,378.9 Z"/>
<path class="p" d="M1264.4,372.8 L1266.3,374.7 Q1267.7,376.1 1267.9,378.1 L1268.8,386.0"/>
<path class="p" d="M1271.0,367.4 L1273.4,372.1 Q1274.3,373.9 1274.5,375.9 L1275.4,384.9"/>
<path class="p" d="M1273.2,376.1 L1278.6,375.0"/>
</g>
<!-- p_40_left.py -->
<g id="leftparts">
<path class="p hv" d="M78.4,241.4 L74.4,243.3 Q71.8,244.7 70.1,247.2 L69.5,248.1 Q67.8,250.6 67.8,253.6 L67.8,330.7 Q67.8,333.7 69.8,335.9 L71.7,338.1 Q73.7,340.3 76.5,341.5 L81.5,343.7 Q84.3,344.9 87.3,344.9 L97.1,344.9 Q100.1,344.9 102.9,343.7 L107.9,341.5 Q110.7,340.3 112.9,338.3 L115.7,335.7 Q117.9,333.7 117.9,330.7 L117.9,254.2 Q117.9,251.3 116.6,248.6 L116.6,248.6 Q115.3,246.0 112.8,244.4 L110.0,242.7"/>
<path class="p hv" d="M80.3,238.7 L80.3,242.3 Q80.3,245.3 82.7,247.2 L84.6,248.7 Q86.9,250.6 89.9,250.6 L97.1,250.6 Q100.1,250.6 102.5,248.7 L104.4,247.2 Q106.7,245.3 106.7,242.4 L106.7,239.4"/>
<ellipse class="w hv" cx="93.5" cy="238.5" rx="13.2" ry="7.3" transform="rotate(0 93.5 238.5)"/>
<path class="p hv" d="M83.6,240.1 L86.1,242.6 Q88.2,244.7 91.2,244.9 L93.2,245.1 Q96.2,245.3 98.7,243.8 L102.7,241.4"/>
<path class="p hv" d="M78.4,265.8 L82.0,267.4 Q85.6,269.1 89.6,269.3 L92.2,269.5 Q96.2,269.7 100.1,268.9 L102.2,268.4 Q105.4,267.7 108.0,265.8 L110.7,263.8"/>
<path class="w" d="M294.5,397.5 Q293.1,398.0 292.7,399.5 L289.2,413.0 Q288.8,414.5 290.0,415.4 L330.8,446.4 Q332.0,447.3 332.2,448.8 L333.6,461.4 Q333.7,462.9 334.4,461.5 L341.7,446.9 Q342.4,445.6 342.6,444.1 L343.9,435.0 Q344.1,433.5 343.6,432.1 L341.1,425.4 Q340.6,424.0 339.5,423.0 L319.3,405.9 Q318.2,405.0 318.2,403.5 L318.2,393.5 Q318.2,392.0 316.7,391.8 L311.9,391.3 Q310.4,391.1 309.0,391.7 Z"/>
<path class="p" d="M296.6,398.0 L309.6,406.5 Q311.2,407.5 312.8,408.8 L332.2,425.3 Q333.7,426.6 334.9,428.2 L337.7,431.9 Q338.9,433.5 339.1,435.5 L339.6,440.1 Q339.8,442.1 339.2,444.0 L335.4,455.9"/>
<path class="p" d="M302.6,398.0 L314.7,404.1 L313.0,394.6 Z"/>
<path class="k" d="M332.0,447.3 L335.4,462.9 L339.8,450.8 Z"/>
<path class="p" d="M324.2,428.3 L327.7,430.9 L325.1,434.3"/>
<path class="p" d="M318.2,403.2 L324.2,406.7"/>
<path class="p" d="M254.2,411.0 L261.1,408.0 Q262.0,407.5 262.1,408.5 L262.7,413.5 Q262.8,414.5 263.7,414.9 L268.9,417.5 Q269.8,417.9 269.5,418.9 L268.9,421.4"/>
<path class="w" d="M251.7,417.2 Q251.6,416.2 252.6,416.3 L265.3,417.8 Q266.3,417.9 266.0,418.9 L263.1,429.1 Q262.8,430.0 261.8,429.9 L253.5,429.2 Q252.5,429.2 252.4,428.2 Z"/>
<path class="w" d="M267.1,421.5 Q267.2,420.5 268.1,420.7 L280.9,423.7 Q281.9,424.0 281.7,425.0 L279.4,437.7 Q279.3,438.7 278.3,438.5 L266.4,437.1 Q265.4,436.9 265.5,435.9 Z"/>
<path class="w" d="M284.0,424.2 Q283.6,422.2 285.4,423.1 L290.4,425.7 Q292.2,426.6 292.7,428.5 L293.5,431.5 Q294.0,433.5 292.9,435.2 L289.8,440.4 Q288.8,442.1 286.9,441.5 L285.5,441.0 Q283.6,440.4 283.9,438.4 L285.0,432.0 Q285.3,430.0 284.9,428.1 Z"/>
<path class="w" d="M280.9,444.1 Q281.0,442.1 283.0,442.1 L286.8,442.1 Q288.8,442.1 290.5,443.2 L294.0,445.4 Q295.7,446.4 295.5,448.4 L294.2,460.0 Q294.0,462.0 292.0,462.2 L289.0,462.6 Q287.0,462.9 285.8,461.3 L281.4,455.8 Q280.1,454.2 280.3,452.2 Z"/>
<path class="d" d="M360.5,316.8 L345.8,310.7 L343.2,314.2 L340.6,340.1 L335.4,359.1 L330.3,386.8 L327.7,402.4"/>
<path class="d" d="M347.5,431.4 L395.9,431.4"/>
<path class="d" d="M309.5,455.0 L332.0,466.3 L349.3,475.8 L408.0,509.0"/>
</g>
<!-- p_50_botleft.py -->
<g id="botleft">
<path class="w hv" d="M208.6,770.8 L188.3,759.9 Q185.7,758.5 182.7,758.9 L182.1,758.9 Q179.1,759.3 177.1,761.5 L173.8,765.3 Q171.8,767.5 171.6,770.5 L171.1,779.2 Q171.0,782.2 171.8,785.1 L178.3,808.8 Q179.1,811.7 180.2,814.5 L194.5,853.1 Q195.5,856.0 198.0,857.6 L207.8,864.1 Q210.3,865.8 211.0,862.9 L211.9,859.2"/>
<path class="t3" d="M172.9,783.1 L181.1,812.1 L197.5,854.6"/>
<path class="q" d="M194.7,800.3 L197.2,802.7 L200.4,800.3"/>
<path class="p hv" d="M209.4,864.1 L209.4,754.8 Q209.4,752.8 210.7,751.2 L213.9,747.0 Q215.2,745.4 217.1,745.0 L219.3,744.6"/>
<path class="p hv" d="M214.4,752.8 L214.4,859.2"/>
<path class="p hv" d="M208.6,775.7 L203.7,776.5 L203.7,782.2 L208.6,783.1"/>
<path class="p hv" d="M208.6,829.7 L203.7,830.6 L203.7,836.3 L208.6,837.1"/>
<path class="w hv" d="M215.2,745.4 L244.5,749.1 Q247.9,749.5 250.4,751.9 L250.4,751.9 Q252.9,754.4 253.6,757.8 L255.3,765.2 Q256.1,769.1 256.8,773.1 L258.7,784.9 Q259.4,788.8 259.9,792.8 L262.2,811.0 Q262.7,815.0 262.8,819.0 L263.4,840.5 Q263.5,844.5 259.6,845.5 L215.2,857.6"/>
<path class="p hv" d="M227.6,757.3 Q228.3,754.4 231.2,754.0 L242.4,752.3 Q244.7,751.9 246.3,753.6 L246.3,753.6 Q247.9,755.2 248.2,757.5 L249.2,764.5 Q249.6,767.5 246.7,768.2 L232.8,771.7 Q229.9,772.4 229.1,769.5 L227.5,763.8 Q226.6,761.0 227.4,758.0 Z"/>
<path class="p hv" d="M229.9,772.4 L252.0,769.1 L253.7,785.5 L236.5,788.8"/>
<path class="p hv" d="M251.2,755.2 L255.3,769.1 L256.9,785.5"/>
<path class="p hv" d="M236.5,780.6 L251.2,779.0 L252.0,788.8 L237.3,790.4 Z"/>
<path class="p hv" d="M228.3,782.2 L225.1,788.6 Q224.2,790.4 224.2,792.4 L223.4,843.3 Q223.4,845.3 225.2,844.6 L231.6,842.0"/>
<path class="p hv" d="M230.7,799.0 Q230.7,797.0 232.6,796.2 L236.3,794.5 Q238.1,793.7 238.6,795.6 L242.5,809.8 Q243.0,811.7 241.5,813.0 L236.4,817.0 Q234.8,818.3 233.3,817.0 L232.3,816.3 Q230.7,815.0 230.7,813.0 Z"/>
<path class="k" d="M234.8,798.6 L241.4,811.7 L236.5,815.8 Z"/>
<path class="p hv" d="M234.8,797.0 L238.1,810.1"/>
<path class="w hv" d="M244.7,793.7 Q244.7,792.1 246.3,792.0 L257.4,791.4 Q259.4,791.3 261.0,792.5 L265.2,795.8 Q266.8,797.0 265.4,798.4 L264.1,799.7 Q262.7,801.1 260.7,801.1 L256.5,801.1 Q254.5,801.1 252.8,800.1 L246.1,796.2 Q244.7,795.3 244.7,793.7 Z"/>
<path class="w hv" d="M247.9,806.8 Q247.9,805.2 249.6,805.0 L260.7,803.8 Q262.7,803.5 264.0,805.1 L265.5,806.9 Q266.8,808.5 265.5,810.0 L264.0,811.8 Q262.7,813.4 260.7,813.5 L254.8,814.0 Q252.9,814.2 251.5,812.7 L249.0,809.7 Q247.9,808.5 247.9,806.8 Z"/>
<path class="p hv" d="M243.0,811.7 L247.9,815.0 L261.0,815.0"/>
<path class="p hv" d="M233.9,827.7 Q234.8,824.8 237.8,824.2 L248.3,822.1 Q251.2,821.6 251.5,824.5 L252.6,835.0 Q252.9,837.9 250.0,838.7 L237.7,842.1 Q234.8,842.9 233.7,840.1 L232.7,837.4 Q231.6,834.7 232.5,831.8 Z"/>
<path class="p hv" d="M246.3,827.3 L243.7,827.7 Q241.4,828.1 240.2,830.2 L240.1,830.2 Q238.9,832.2 240.6,833.8 L242.2,835.5"/>
<path class="q" d="M219.3,746.2 L220.7,748.5 Q221.7,750.3 220.5,751.9 L219.3,753.6"/>
<path class="l" d="M219.3,702.7 L219.3,744.6"/>
<path d="M88.2,936.0 L118.2,953.5 Q121.0,955.1 124.2,955.3 L124.8,955.3 Q127.3,955.5 129.2,953.7 L129.2,953.7 Q131.0,951.9 130.5,949.4 L125.8,924.9 Q125.1,921.0 124.9,917.0 L124.8,915.7 Q124.6,912.3 126.9,909.8 L126.9,909.8 Q129.2,907.3 132.4,906.5 L145.5,903.2" fill="none" stroke="#000" stroke-width="11" stroke-linejoin="round" stroke-linecap="butt"/><path d="M88.2,936.0 L118.2,953.5 Q121.0,955.1 124.2,955.3 L124.8,955.3 Q127.3,955.5 129.2,953.7 L129.2,953.7 Q131.0,951.9 130.5,949.4 L125.8,924.9 Q125.1,921.0 124.9,917.0 L124.8,915.7 Q124.6,912.3 126.9,909.8 L126.9,909.8 Q129.2,907.3 132.4,906.5 L145.5,903.2" fill="none" stroke="#fff" stroke-width="6.0" stroke-linejoin="round" stroke-linecap="butt"/>
<path class="w hv3" d="M63.6,922.8 L79.1,917.3 L95.5,926.4 L95.5,932.8 L86.4,942.8 L80.0,945.5 L63.6,935.5 Z"/>
<path class="p hv" d="M63.6,923.7 L77.3,930.5 L81.4,931.9 L95.5,926.9"/>
<path class="p hv" d="M80.9,932.8 L80.5,945.5"/>
<path class="p hv" d="M85.0,933.7 L85.3,942.3"/>
<path class="p hv" d="M81.4,931.9 L90.0,932.8 L86.4,939.2"/>
<ellipse class="w hv3" cx="61.4" cy="919.9" rx="2.6" ry="4.2" transform="rotate(-25 61.4 919.9)"/>
<path class="k" d="M62.3,916.0 L71.8,919.6 L68.2,923.7 L63.6,921.9 Z"/>
<path class="w hv3" d="M141.7,898.7 Q141.4,897.3 142.2,896.2 L143.0,895.0 Q144.6,892.7 147.3,891.9 L150.0,891.0 Q152.8,890.0 155.8,890.4 L161.2,891.1 Q163.7,891.4 165.3,893.4 L165.3,893.4 Q166.9,895.5 166.7,898.1 L166.7,898.9 Q166.5,901.8 164.5,904.2 L163.8,905.0 Q161.9,907.3 159.1,908.3 L155.1,909.7 Q152.8,910.5 150.5,911.2 L150.5,911.2 Q148.3,911.9 147.4,909.7 L147.4,909.6 Q146.5,907.3 145.2,905.2 L142.6,901.2 Q141.9,900.0 141.7,898.7 Z"/>
<ellipse class="w hv3" cx="163.9" cy="897.8" rx="2.6" ry="5.4" transform="rotate(-12 163.9 897.8)"/>
<path class="p hv" d="M145.5,898.2 L149.2,900.0"/>
<path class="p hv" d="M154.6,893.7 L155.6,897.3 L160.1,898.2"/>
<path class="p hv" d="M152.8,900.9 L151.0,906.4"/>
<path class="p hv" d="M155.6,901.8 L153.7,908.2"/>
<path class="p hv" d="M159.2,900.0 L159.2,906.4"/>
<ellipse class="w" cx="177.4" cy="892.3" rx="3.4" ry="6.3" transform="rotate(-10 177.4 892.3)"/>
<path class="w" d="M283.5,924.1 Q283.1,922.2 285.0,921.8 L290.5,920.7 Q292.5,920.3 292.8,922.3 L294.1,929.6 Q294.4,931.6 294.4,933.6 L294.4,943.7 Q294.4,945.7 292.7,946.8 L290.4,948.4 Q288.7,949.5 287.0,948.5 L283.9,946.7 Q282.1,945.7 282.5,943.8 L284.6,933.6 Q285.0,931.6 284.6,929.6 Z"/>
<path class="w" d="M292.5,920.3 L295.5,918.5 Q297.2,917.5 298.6,918.9 L302.4,922.7 Q303.8,924.1 303.3,926.0 L302.5,928.7 Q301.9,930.7 299.9,930.9 L294.4,931.6"/>
<path class="w" d="M263.0,941.3 Q261.4,940.1 262.6,938.4 L266.9,932.3 Q268.0,930.7 269.8,931.6 L275.6,934.5 Q277.4,935.4 277.9,937.3 L278.8,941.0 Q279.3,942.9 277.6,944.0 L273.5,946.6 Q271.8,947.6 270.2,946.4 Z"/>
<path class="q" d="M273.7,936.3 L270.8,936.9 Q268.9,937.3 268.9,939.1 L268.9,939.1 Q268.9,941.0 270.8,941.5 L272.7,942.0"/>
<ellipse class="w q" cx="280.2" cy="941.4" rx="2" ry="2.5" transform="rotate(0 280.2 941.4)"/>
<path class="w hv3" d="M326.8,725.5 L331.4,720.0 L343.7,720.5 L348.7,724.6 L348.7,738.2 L341.4,742.3 L333.7,742.3 L326.8,738.2 Z"/>
<path class="p hv" d="M333.7,722.7 L332.7,727.3 L329.6,730.0"/>
<path class="p hv" d="M340.0,722.7 L339.1,728.2 L336.4,729.6"/>
<path class="p hv" d="M329.6,731.4 L334.6,733.7"/>
<path class="p hv" d="M340.9,732.8 L346.4,730.0"/>
<path class="p hv" d="M336.8,735.5 L336.8,740.0"/>
<path class="p hv" d="M338.7,735.5 L339.6,740.0"/>
<path class="p hv" d="M328.2,735.9 L333.2,735.0"/>
<path class="w" d="M329.3,758.7 Q327.3,756.4 329.3,754.1 L329.3,754.1 Q331.4,751.9 334.4,751.9 L339.2,751.9 Q342.3,751.9 344.3,754.1 L344.3,754.1 Q346.4,756.4 344.3,758.7 L344.3,758.7 Q342.3,761.0 339.2,761.0 L334.4,761.0 Q331.4,761.0 329.3,758.7 Z"/>
<path class="w hv3" d="M361.4,768.7 Q361.4,766.0 363.9,764.8 L363.9,764.8 Q366.4,763.7 369.1,763.0 L372.6,762.1 Q375.5,761.4 378.2,762.6 L378.4,762.6 Q381.0,763.7 383.7,764.4 L383.7,764.4 Q386.4,765.1 386.6,767.9 L386.7,769.8 Q386.9,772.8 385.4,775.4 L384.3,777.5 Q382.8,780.1 379.9,780.9 L376.4,782.0 Q373.7,782.8 371.0,783.5 L371.0,783.5 Q368.2,784.2 366.3,782.1 L365.7,781.4 Q363.7,779.2 362.7,776.3 L362.4,775.6 Q361.4,772.8 361.4,769.8 Z"/>
<ellipse class="w hv" cx="369.6" cy="773.9" rx="4.6" ry="5.8" transform="rotate(-15 369.6 773.9)"/>
<path class="p hv" d="M366.4,770.1 L368.2,770.5 Q370.1,771.0 370.4,772.8 L370.6,773.6 Q371.0,775.5 369.6,776.9 L368.2,778.3"/>
<path class="p hv" d="M373.7,765.5 L374.2,767.6 Q374.6,769.2 376.0,770.1 L376.0,770.1 Q377.3,771.0 379.0,770.7 L382.8,770.1"/>
<path class="p hv" d="M379.2,771.9 L380.1,777.3"/>
<path class="p hv" d="M373.7,775.5 L375.5,780.1"/>
<ellipse class="w" cx="349.1" cy="779.9" rx="3.1" ry="6.6" transform="rotate(-20 349.1 779.9)"/>
</g>
<!-- p_60_mid.py -->
<g id="midparts">
<path class="w" d="M798.2,325.9 Q797.5,324.1 798.6,322.4 L800.1,319.9 Q801.1,318.2 803.1,317.8 L806.5,317.2 Q808.4,316.8 809.8,318.2 L811.4,319.7 Q812.8,321.1 813.3,323.1 L813.8,325.0 Q814.2,327.0 816.2,326.8 L821.0,326.4 Q823.0,326.2 824.5,327.6 L827.3,330.0 Q828.8,331.3 829.7,333.1 L832.3,338.3 Q833.2,340.1 834.5,338.6 L840.6,331.4 Q841.9,329.9 841.6,327.9 L839.3,312.2 Q839.0,310.2 840.7,311.3 L852.6,318.6 Q854.3,319.7 854.9,321.6 L859.5,336.7 Q860.1,338.6 858.6,340.0 L849.2,348.9 Q847.7,350.3 848.4,352.1 L853.6,365.9 Q854.3,367.7 852.7,368.9 L850.1,370.9 Q848.5,372.1 846.7,371.1 L843.7,369.4 Q841.9,368.5 840.2,367.5 L813.1,352.7 Q811.3,351.7 810.2,350.1 L805.2,343.2 Q804.1,341.5 803.4,339.7 Z"/>
<path class="p" d="M799.7,328.4 L844.8,354.6"/>
<path class="p" d="M812.8,327.0 L819.3,338.6"/>
<path class="p" d="M828.8,331.3 L824.4,338.6 L819.3,338.6"/>
<path class="p" d="M833.2,340.1 L828.8,345.9"/>
<path class="p" d="M833.2,344.4 L846.3,350.3"/>
<path class="p" d="M847.7,350.3 L844.8,354.6 L848.5,372.1"/>
<path class="p" d="M841.9,329.9 L856.5,339.3"/>
<path class="p" d="M841.9,329.9 L844.8,321.1 L854.3,319.7"/>
<ellipse class="w q" cx="849.2" cy="324.1" rx="2.2" ry="2.8" transform="rotate(0 849.2 324.1)"/>
<path class="q" d="M834.6,356.1 L839.0,357.8 L836.8,361.2"/>
<path class="k" d="M821.5,337.2 L827.3,341.5 L831.0,339.3 L827.3,335.7 Z"/>
<path class="w" d="M771.7,358.0 Q771.3,356.1 771.8,354.1 L772.3,352.2 Q772.8,350.3 774.7,349.7 L778.8,348.6 Q780.8,348.1 782.7,348.5 L786.1,349.1 Q788.0,349.5 789.8,350.6 L802.3,358.0 Q804.1,359.0 806.0,359.5 L813.8,361.4 Q815.7,361.9 817.5,362.8 L831.4,369.7 Q833.2,370.6 833.9,372.5 L838.3,384.8 Q839.0,386.7 837.3,387.7 L837.1,387.8 Q835.4,388.8 833.6,387.9 L824.7,383.2 Q823.0,382.3 821.1,381.8 L811.8,379.2 Q809.9,378.6 807.9,378.4 L800.2,377.4 Q798.2,377.2 796.3,376.6 L792.9,375.6 Q791.0,375.0 789.5,373.6 L788.0,372.1 Q786.6,370.6 784.7,371.4 L781.2,372.8 Q779.3,373.6 777.6,372.6 L775.9,371.6 Q774.2,370.6 773.8,368.7 Z"/>
<path class="p" d="M773.5,356.8 L786.1,358.7 Q788.0,359.0 789.9,359.7 L802.2,364.1 Q804.1,364.8 806.0,365.5 L830.3,373.6"/>
<path class="p" d="M783.7,359.0 L788.0,370.6"/>
<path class="p" d="M791.0,364.8 L798.2,376.5"/>
<path class="p" d="M802.6,364.8 L804.1,375.7"/>
<path class="p" d="M811.3,365.5 L812.8,378.2"/>
<path class="p" d="M815.7,367.7 L817.2,379.4"/>
<path class="p" d="M827.3,375.0 L833.2,385.2"/>
<path class="q" d="M818.6,373.6 L827.3,375.7 L825.9,379.4"/>
<path class="k" d="M830.3,373.6 L839.0,386.7 L835.4,388.8 L827.3,376.5 Z"/>
<path class="w" d="M735.5,592.5 Q733.9,591.3 733.9,589.3 L733.9,578.2 Q733.9,576.2 735.6,575.2 L736.0,575.0 Q737.7,573.9 739.6,574.5 L741.0,574.9 Q743.0,575.4 743.1,577.4 L743.6,582.5 Q743.7,584.5 745.7,584.6 L761.3,585.2 Q763.3,585.2 765.3,585.2 L768.9,585.2 Q770.9,585.2 772.6,586.2 L787.2,594.1 Q788.9,595.0 790.4,596.4 L792.8,598.9 Q794.2,600.3 794.0,602.3 L793.7,604.4 Q793.5,606.3 791.9,607.6 L790.5,608.8 Q788.9,610.1 787.2,609.2 L769.6,599.7 Q767.8,598.8 765.8,598.8 L751.8,598.8 Q749.8,598.8 747.8,598.3 L742.6,597.0 Q740.7,596.5 739.1,595.3 Z"/>
<path class="p" d="M737.7,586.7 L743.7,591.3 L767.8,592.0"/>
<path class="p" d="M767.8,585.2 L768.6,598.8"/>
<path class="p" d="M770.9,591.3 L786.7,599.6"/>
<ellipse class="w q" cx="788.9" cy="602.1" rx="1.8" ry="2.4" transform="rotate(0 788.9 602.1)"/>
<path class="q" d="M736.2,581.5 L738.4,576.9 L741.0,579.5"/>
<path class="q" d="M775.4,595.8 L781.4,599.1 L782.6,596.5"/>
<path class="w" d="M858.9,762.8 Q858.9,759.8 861.8,759.1 L891.5,752.0 Q894.5,751.3 896.2,748.8 L900.5,742.9 Q902.2,740.4 905.0,739.4 L905.6,739.2 Q908.4,738.1 911.2,739.2 L911.8,739.4 Q914.6,740.4 916.7,742.6 L917.1,743.0 Q919.2,745.1 921.7,746.8 L922.2,747.2 Q924.6,748.9 926.1,751.5 L926.2,751.7 Q927.7,754.4 927.4,757.3 L927.2,759.1 Q926.9,762.1 924.1,763.0 L900.4,770.5 Q897.6,771.4 895.7,773.7 L893.2,776.8 Q891.4,779.1 888.5,780.1 L884.9,781.2 Q882.1,782.2 879.3,781.1 L876.6,780.0 Q874.4,779.1 873.6,776.8 L873.6,776.8 Q872.8,774.5 870.4,774.5 L861.9,774.5 Q858.9,774.5 858.9,771.5 Z"/>
<path class="w" d="M842.0,755.0 Q841.9,752.8 843.4,751.3 L843.4,751.3 Q845.0,749.7 847.2,749.7 L848.2,749.7 Q851.2,749.7 853.1,752.0 L857.0,756.7 Q858.9,759.0 858.9,762.0 L858.9,768.6 Q858.9,771.4 857.3,773.7 L857.3,773.7 Q855.8,776.0 853.2,775.0 L850.8,774.0 Q848.1,772.9 845.8,771.0 L844.9,770.2 Q842.6,768.3 842.5,765.3 Z"/>
<path class="q" d="M846.5,756.7 L848.8,757.1 Q850.4,757.4 850.8,759.0 L850.8,759.0 Q851.2,760.5 849.9,761.5 L848.1,762.9"/>
<path class="p" d="M862.0,762.1 L891.5,755.0 Q894.5,754.4 896.2,751.9 L900.5,746.0 Q902.2,743.5 905.1,742.8 L905.9,742.6 Q908.4,742.0 910.7,743.1 L913.0,744.3"/>
<path class="p" d="M862.0,769.0 L896.0,760.5 L925.4,752.8"/>
<path class="p" d="M900.6,755.9 L901.6,751.1 Q902.2,748.2 904.3,746.0 L905.2,745.2 Q906.8,743.5 909.2,743.9 L911.5,744.3"/>
<path class="p" d="M911.5,755.9 L913.5,751.9 Q914.6,749.7 916.9,748.9 L916.9,748.9 Q919.2,748.2 921.2,749.5 L923.9,751.3"/>
<path class="p" d="M879.0,774.5 L881.6,776.2 Q883.6,777.6 886.0,776.8 L886.0,776.8 Q888.3,776.0 889.6,774.0 L891.4,771.4"/>
<path class="k" d="M894.5,759.0 L903.7,756.7 L902.2,760.5 Z"/>
<path class="w hv3" d="M858.6,555.5 Q858.6,553.7 859.6,552.1 L860.3,550.8 Q861.8,548.2 864.7,547.3 L868.1,546.3 Q870.9,545.5 873.8,546.3 L881.7,548.7 Q884.6,549.6 886.0,552.2 L887.0,554.0 Q888.2,556.4 890.5,557.8 L890.5,557.8 Q892.8,559.1 893.0,561.8 L893.0,561.8 Q893.2,564.6 891.6,566.8 L890.9,567.6 Q889.1,570.0 886.2,570.6 L880.2,571.7 Q877.3,572.3 874.5,571.1 L866.4,567.6 Q863.6,566.4 862.2,563.8 L859.5,558.9 Q858.6,557.3 858.6,555.5 Z"/>
<path class="p hv" d="M863.6,547.7 L862.1,551.2 Q860.9,553.7 861.1,556.4 L861.2,556.6 Q861.4,559.1 863.2,560.9 L865.0,562.8"/>
<path class="p hv" d="M867.3,550.0 L865.5,554.6 L870.0,557.3"/>
<path class="p hv" d="M873.7,554.6 L877.3,550.9"/>
<path class="p hv" d="M880.9,554.6 L885.5,555.5 L886.4,558.2"/>
<path class="p hv" d="M864.6,558.2 L868.2,565.5"/>
<path class="p hv" d="M872.7,560.9 L874.3,564.0 Q875.5,566.4 878.2,566.4 L880.9,566.4"/>
<path class="p hv" d="M880.9,560.9 L881.8,566.4"/>
<ellipse class="w hv" cx="889.3" cy="562.5" rx="2.6" ry="4" transform="rotate(20 889.3 562.5)"/>
<path class="w hv3" d="M896.4,606.4 Q894.6,605.5 895.6,603.8 L896.7,601.8 Q898.2,599.2 901.1,598.2 L903.6,597.4 Q906.4,596.4 909.3,597.4 L915.5,599.5 Q917.3,600.1 918.7,601.4 L918.7,601.4 Q920.1,602.8 921.2,604.4 L922.9,606.7 Q924.6,609.2 924.4,612.2 L924.3,612.9 Q924.2,615.5 922.1,617.1 L922.1,617.1 Q920.1,618.7 917.5,619.0 L913.0,619.4 Q910.1,619.6 907.3,618.5 L901.0,615.8 Q898.2,614.6 898.2,611.6 L898.2,609.4 Q898.2,607.3 896.4,606.4 Z"/>
<path class="k" d="M894.6,605.5 L898.2,599.2 L902.8,600.5 L901.4,607.3 L898.2,607.3 Z"/>
<path class="p hv" d="M903.7,601.9 L902.8,605.5 L906.4,607.3"/>
<path class="p hv" d="M909.1,601.9 L906.4,605.5"/>
<path class="p hv" d="M913.7,603.7 L917.3,605.5 L919.2,608.3"/>
<path class="p hv" d="M901.9,609.2 L904.6,614.6"/>
<path class="p hv" d="M907.3,610.1 L909.0,613.5 Q910.1,615.5 912.3,615.1 L914.6,614.6"/>
<path class="p hv" d="M913.7,610.1 L915.5,614.6"/>
<ellipse class="w hv" cx="921.4" cy="612.3" rx="2.2" ry="2.7" transform="rotate(20 921.4 612.3)"/>
</g>
<!-- p_70_botmid.py -->
<g id="botmid">
<path class="w hv" d="M842.8,915.8 Q842.9,912.8 844.6,910.3 L846.3,907.6 Q848.0,905.1 850.9,904.4 L869.7,899.9 Q872.6,899.2 874.3,896.8 L877.6,892.3 Q879.4,889.9 882.1,888.7 L885.1,887.6 Q887.8,886.5 890.8,886.7 L894.2,887.0 Q897.2,887.3 899.7,888.9 L901.4,890.0 Q904.0,891.6 906.8,890.7 L922.3,886.4 Q925.2,885.6 928.0,886.4 L928.2,886.5 Q931.1,887.3 932.1,890.1 L932.6,891.3 Q933.6,894.1 933.5,897.1 L931.3,938.6 Q931.1,941.6 928.7,943.4 L924.2,946.6 Q921.8,948.4 920.6,951.1 L918.7,955.8 Q917.5,958.5 914.9,960.0 L914.2,960.5 Q911.6,961.9 909.0,960.5 L908.3,960.0 Q905.7,958.5 903.7,956.2 L903.3,955.8 Q901.4,953.5 898.5,954.3 L878.8,960.2 Q876.0,961.1 874.3,963.6 L872.5,966.2 Q870.9,968.7 868.8,970.8 L867.1,972.5 Q864.9,974.7 862.0,973.9 L861.1,973.7 Q858.2,973.0 856.4,970.5 L855.7,969.5 Q853.9,967.0 850.9,967.0 L847.4,967.0 Q844.6,967.0 843.3,964.5 L843.3,964.5 Q842.0,961.9 842.1,959.1 Z"/>
<path class="p" d="M852.2,918.3 Q852.2,915.3 855.1,914.5 L918.9,897.4 Q921.8,896.6 921.8,899.6 L921.8,935.2 Q921.8,938.2 918.9,939.0 L854.3,957.7 Q851.4,958.5 851.4,955.5 Z"/>
<ellipse class="w" cx="863.2" cy="934.0" rx="5.9" ry="14.2" transform="rotate(8 863.2 934.0)"/>
<ellipse class="w" cx="887.0" cy="928.0" rx="5.9" ry="14.2" transform="rotate(8 887.0 928.0)"/>
<path class="p" d="M891.4,893.5 A2.6,2.6 0 1 0 891.4,898.7" transform="rotate(30 889.5 896.1)"/>
<path class="p" d="M914.7,925.2 A4.5,4.5 0 1 0 914.7,934.2" transform="rotate(20 911.6 929.7)"/>
<path class="p" d="M914.3,950.0 A2.6,2.6 0 1 0 914.3,955.2" transform="rotate(30 912.4 952.6)"/>
<path class="p" d="M866.8,964.4 A2.6,2.6 0 1 0 866.8,969.6" transform="rotate(30 864.9 967.0)"/>
<path class="w" d="M952.7,961.9 Q951.4,961.9 950.2,962.1 L946.3,962.4 Q942.1,962.8 939.1,965.8 L939.1,965.8 Q936.2,968.7 935.4,972.9 L934.7,976.4 Q933.6,982.3 934.4,988.2 L934.8,991.4 Q935.3,995.9 938.7,998.8 L938.9,999.0 Q942.1,1001.8 946.4,1001.4 L946.4,1001.4 Q950.6,1000.9 953.6,997.9 L954.8,996.7 Q959.1,992.5 961.4,986.9 L966.4,974.9 Q967.6,972.1 970.1,970.4 L970.1,970.4 Q972.6,968.7 969.8,967.7 L955.2,962.4 Q954.0,961.9 952.7,961.9 Z"/><path class="p" d="M945.5,965.3 L943.4,968.7 Q941.3,972.1 940.8,976.1 L940.2,980.5 Q939.6,985.7 940.8,990.8 L941.4,992.9 Q942.1,995.9 944.7,997.6 L947.2,999.3"/><path class="p" d="M950.6,968.7 L947.9,977.4 Q946.4,982.3 946.8,987.4 L946.9,988.7 Q947.2,992.5 950.6,994.2 L950.6,994.2 Q954.0,995.9 956.9,993.4 L959.9,990.8"/><ellipse class="w" cx="965.9" cy="962.8" rx="12.5" ry="9.5" transform="rotate(18 965.9 962.8)"/><ellipse class="w" cx="965.9" cy="958.9" rx="12.5" ry="9.5" transform="rotate(18 965.9 958.9)"/><path class="p" d="M961.7,955.0 A5.5,5.5 0 1 0 972.2,957.5"/>
<path class="w" d="M1005.3,942.4 Q1004.0,942.4 1002.8,942.6 L998.9,942.9 Q994.7,943.3 991.7,946.3 L991.7,946.3 Q988.8,949.2 988.0,953.3 L987.3,956.9 Q986.2,962.8 987.0,968.7 L987.4,971.9 Q987.9,976.4 991.3,979.3 L991.5,979.5 Q994.7,982.3 998.9,981.9 L998.9,981.9 Q1003.2,981.4 1006.2,978.4 L1007.4,977.2 Q1011.7,973.0 1014.0,967.4 L1019.0,955.4 Q1020.1,952.6 1022.7,950.9 L1022.7,950.9 Q1025.2,949.2 1022.4,948.2 L1007.8,942.9 Q1006.6,942.4 1005.3,942.4 Z"/><path class="p" d="M998.1,945.8 L996.0,949.2 Q993.8,952.6 993.4,956.6 L992.8,961.0 Q992.2,966.2 993.4,971.3 L994.0,973.4 Q994.7,976.4 997.2,978.1 L999.8,979.7"/><path class="p" d="M1003.2,949.2 L1000.5,957.9 Q998.9,962.8 999.4,967.9 L999.5,969.2 Q999.8,973.0 1003.2,974.7 L1003.2,974.7 Q1006.6,976.4 1009.4,973.9 L1012.5,971.3"/><ellipse class="w" cx="1018.4" cy="943.3" rx="12.5" ry="9.5" transform="rotate(18 1018.4 943.3)"/><ellipse class="w" cx="1018.4" cy="939.4" rx="12.5" ry="9.5" transform="rotate(18 1018.4 939.4)"/><path class="p" d="M1014.3,935.5 A5.5,5.5 0 1 0 1024.8,938.0"/>
<ellipse class="w hv" cx="1055.4" cy="955.5" rx="13.2" ry="13.4" transform="rotate(0 1055.4 955.5)"/>
<path class="t3" d="M1044.2,964.0 L1043.5,959.6 Q1042.9,955.2 1044.6,951.0 L1044.8,950.7 Q1046.6,946.3 1051.0,944.6 L1051.2,944.6 Q1055.4,942.9 1059.8,943.8 L1064.2,944.6"/>
<path class="p" d="M1048.1,961.9 L1050.3,954.7 Q1051.5,950.9 1055.0,949.0 L1058.3,947.2 Q1060.8,945.8 1063.4,947.1 L1063.4,947.1 Q1065.9,948.4 1066.9,951.0 L1067.2,951.8 Q1068.5,955.2 1066.9,958.4 L1065.9,960.2 Q1064.2,963.6 1060.8,965.3 L1057.4,967.0"/>
<path class="q" d="M1062.4,957.9 Q1061.7,956.0 1063.3,954.8 L1063.5,954.7 Q1065.1,953.5 1065.8,955.3 L1066.0,955.8 Q1066.8,957.7 1065.2,958.9 L1065.0,959.0 Q1063.4,960.2 1062.6,958.4 Z"/>
</g>
<!-- p_75_sleeve.py -->
<g id="sleeve">
<path class="w hv" d="M1086.9,504.5 Q1086.8,502.0 1089.2,501.5 L1095.8,500.1 Q1098.2,499.6 1100.6,499.0 L1136.9,489.3 Q1139.3,488.6 1141.8,488.6 L1143.5,488.6 Q1146.0,488.6 1148.2,489.9 L1151.5,491.7 Q1153.7,492.9 1155.2,494.9 L1159.7,500.5 Q1161.3,502.5 1162.1,504.9 L1164.8,513.5 Q1165.6,515.9 1165.6,518.4 L1165.6,526.8 Q1165.6,529.3 1164.8,531.6 L1163.1,536.4 Q1162.3,538.8 1160.1,540.0 L1157.7,541.4 Q1155.6,542.6 1153.2,543.3 L1115.0,553.5 Q1112.6,554.1 1110.2,555.0 L1105.3,557.0 Q1103.0,557.9 1100.5,557.7 L1098.8,557.6 Q1096.3,557.4 1094.4,555.8 L1089.6,551.9 Q1087.7,550.3 1086.3,548.2 L1085.8,547.5 Q1084.4,545.5 1085.9,543.5 L1086.2,543.2 Q1087.7,541.2 1090.1,540.6 L1109.2,536.0 Q1111.6,535.5 1111.2,533.0 L1110.1,526.0 Q1109.7,523.5 1108.5,521.3 L1106.1,517.1 Q1104.9,514.9 1103.1,513.2 L1100.1,510.4 Q1098.2,508.7 1095.7,508.8 L1089.7,509.1 Q1087.2,509.2 1087.1,506.7 Z"/>
<path class="p hv" d="M1111.6,535.5 L1110.3,541.6 Q1109.7,544.5 1107.7,546.8 L1106.9,547.6 Q1104.9,549.8 1101.9,550.2 L1101.2,550.3 Q1098.2,550.8 1095.8,549.0 L1094.9,548.3 Q1092.5,546.5 1090.7,544.0 L1088.7,541.2"/>
<path class="p hv" d="M1098.2,501.5 L1103.5,505.9 Q1105.9,507.7 1107.4,510.3 L1110.2,514.9"/>
<path class="p hv" d="M1087.2,544.5 L1093.3,551.0 Q1095.4,553.1 1098.3,553.9 L1100.1,554.3 Q1103.0,555.1 1105.6,553.6 L1107.1,552.7 Q1109.7,551.2 1111.2,548.6 L1113.1,545.3 Q1113.5,544.5 1114.0,543.8 L1114.5,543.1"/>
</g>
<!-- p_80_dashes.py -->
<g id="dashes">
<path class="d" d="M799.0,281.8 L814.2,270.2 L818.6,276.0 L827.3,303.7 L834.6,329.9"/>
<path class="d" d="M802.6,396.8 L817.9,383.7"/>
<path class="d2" d="M756.0,373.6 L712.0,402.0"/>
<path class="d" d="M744.5,614.6 L775.4,605.6"/>
<path class="d2" d="M898.3,567.9 L1085.0,643.4 L1087.0,650.0 L1093.4,732.0 L1099.4,828.0 L1212.0,880.7"/>
<path class="d2" d="M928.3,617.7 L1075.0,675.0 L1075.5,684.0 L1078.4,732.0 L1085.0,852.0 L1197.0,895.8"/>
<path class="d" d="M1170.3,513.0 L1240.5,496.3 L1287.3,520.4"/>
<path class="d" d="M1270.0,510.8 L1284.8,519.7"/>
<path class="d3" d="M1432.0,460.0 L1404.0,476.0 L1371.0,494.5"/>
<path class="d3" d="M1492.0,441.0 L1483.0,443.5 L1483.0,468.0 L1411.9,503.1"/>
<path class="d" d="M187.0,889.0 L367.4,838.9 L292.3,795.5 L345.7,780.4"/>
<path class="d" d="M197.0,864.0 L197.0,1026.0"/>
<path class="d" d="M246.3,858.4 L251.2,877.2 L266.1,926.0"/>
<path class="d" d="M274.6,952.3 L285.0,980.6"/>
<path class="d" d="M813.3,769.0 L841.1,762.1"/>
<path class="d2" d="M900.6,711.8 L900.6,737.3"/>
<path class="dh" d="M882.1,612.0 L882.1,748.2"/>
<path class="d" d="M897.1,772.9 L897.1,797.0"/>
<path class="d" d="M845.4,871.2 L874.3,889.0"/>
</g>
<!-- p_90_text.py -->
<g id="table">
<path class="t" d="M249.6,106.2 L249.6,23.4 L386.9,23.4 L386.9,189.7 L26.7,189.7 L26.7,106.2 L386.9,106.2"/>
<path class="t" d="M249.6,64.7 L386.9,64.7"/>
<path class="t" d="M26.7,148.2 L386.9,148.2"/>
<path class="t" d="M80.9,106.2 L80.9,189.7"/>
<path class="t" d="M249.6,106.2 L249.6,189.7"/>
<path class="t" d="M317.7,64.7 L317.7,189.7"/>
<text class="n" x="271.9" y="50.1" textLength="97.1" lengthAdjust="spacingAndGlyphs">SIZE (mm)</text>
<text class="n" x="272.6" y="91.9" textLength="18.8" lengthAdjust="spacingAndGlyphs">ID</text>
<text class="n" x="335.1" y="91.9" textLength="26.3" lengthAdjust="spacingAndGlyphs">OD</text>
<text class="n" x="270.2" y="133.6" textLength="27.4" lengthAdjust="spacingAndGlyphs">6.7</text>
<text class="n" x="330.3" y="133.6" textLength="37.0" lengthAdjust="spacingAndGlyphs">10.3</text>
<text class="n" x="259.9" y="176.1" textLength="37.0" lengthAdjust="spacingAndGlyphs">13.4</text>
<text class="n" x="330.3" y="176.1" textLength="37.0" lengthAdjust="spacingAndGlyphs">18.2</text>
<text class="s" x="104.7" y="133.2" textLength="119.1" lengthAdjust="spacingAndGlyphs">90099-14119</text>
<text class="s" x="104.7" y="175.2" textLength="119.1" lengthAdjust="spacingAndGlyphs">90099-14121</text>
<circle class="c" cx="55.3" cy="127.7" r="15"/><text class="cb" x="55.3" y="133.7" text-anchor="middle">1</text>
<circle class="c" cx="55.3" cy="169.7" r="15"/><text class="cb" x="55.3" y="175.7" text-anchor="middle">2</text>
</g>
<g id="labels">
<text class="b" x="152.5" y="306.3" textLength="61.7" lengthAdjust="spacingAndGlyphs">88479</text>
<path class="t" d="M118.0,297.7 L148.0,297.7"/>
<text class="s" x="318.5" y="262.9" textLength="117.4" lengthAdjust="spacingAndGlyphs">91651-60820</text>
<path class="l" d="M374.0,268.0 L374.0,313.0"/>
<circle class="c" cx="373.3" cy="324.3" r="11.5"/><text class="ct" x="373.3" y="331.1" text-anchor="middle">B</text>
<text class="s" x="614.2" y="295.6" textLength="116.7" lengthAdjust="spacingAndGlyphs">91651-60820</text>
<path class="t" d="M730.0,290.0 L775.0,290.0"/>
<circle class="c" cx="786.0" cy="289.7" r="11.5"/><text class="ct" x="786.0" y="296.5" text-anchor="middle">B</text>
<text class="s" x="635.9" y="330.6" textLength="117.7" lengthAdjust="spacingAndGlyphs">88718-2F020</text>
<path class="t" d="M753.0,324.0 L800.0,324.0"/>
<text class="s" x="620.9" y="371.6" textLength="117.3" lengthAdjust="spacingAndGlyphs">88718-26880</text>
<path class="t" d="M737.3,365.5 L775.0,365.5"/>
<circle class="c" cx="792.7" cy="408.7" r="11.5"/><text class="ct" x="792.7" y="415.5" text-anchor="middle">S</text>
<path class="t" d="M804.0,408.7 L838.3,408.7"/>
<text class="s" x="843.2" y="414.9" textLength="118.4" lengthAdjust="spacingAndGlyphs">93385-16016</text>
<text class="b" x="1319.9" y="154.0" textLength="75.2" lengthAdjust="spacingAndGlyphs">88726F</text>
<path class="l" d="M1349.8,160.0 L1349.8,191.0"/>
<path class="g" d="M1256.9,191.0 L1256.9,173.5 L1448.7,173.5 L1448.7,319.0"/>
<circle class="c" cx="1256.9" cy="205.2" r="14"/><text class="cb" x="1256.9" y="211.2" text-anchor="middle">1</text>
<circle class="c" cx="1349.8" cy="205.2" r="14"/><text class="cb" x="1349.8" y="211.2" text-anchor="middle">2</text>
<path class="g" d="M1256.9,219.5 L1256.9,291.8 L1350.8,329.2"/>
<path class="l" d="M1349.8,219.5 L1349.8,294.0"/>
<text class="s" x="354.2" y="379.6" textLength="117.4" lengthAdjust="spacingAndGlyphs">93385-16016</text>
<path class="l" d="M410.0,385.3 L410.0,419.3"/>
<circle class="c" cx="409.3" cy="431.7" r="11.5"/><text class="ct" x="409.3" y="438.5" text-anchor="middle">S</text>
<text class="s" x="135.9" y="402.9" textLength="118.3" lengthAdjust="spacingAndGlyphs">88718-26870</text>
<path class="t" d="M253.3,396.7 L296.0,396.7"/>
<text class="s" x="198.2" y="491.6" textLength="117.7" lengthAdjust="spacingAndGlyphs">88718-2F010</text>
<path class="l" d="M254.0,427.7 L254.0,476.0"/>
<text class="b" x="285.2" y="531.6" textLength="74.0" lengthAdjust="spacingAndGlyphs">88727B</text>
<path class="l" d="M313.3,536.7 L313.3,550.0"/>
<path class="g" d="M282.7,561.0 L282.7,550.0 L345.0,550.0 L345.0,572.7"/>
<circle class="c" cx="282.7" cy="575.3" r="14"/><text class="cb" x="282.7" y="581.3" text-anchor="middle">2</text>
<path class="l" d="M282.7,589.0 L282.7,681.0 L331.8,752.3"/>
<text class="b" x="138.5" y="616.3" textLength="74.7" lengthAdjust="spacingAndGlyphs">88691K</text>
<path class="l" d="M167.7,621.0 L167.7,633.7"/>
<path class="l" d="M116.7,647.7 L116.7,633.7 L219.0,633.7 L219.0,679.3"/>
<text class="b" x="86.9" y="664.9" textLength="74.7" lengthAdjust="spacingAndGlyphs">88726A</text>
<path class="l" d="M116.7,669.3 L116.7,738.0"/>
<text class="s" x="161.9" y="692.9" textLength="118.3" lengthAdjust="spacingAndGlyphs">88688-2F120</text>
<path class="l" d="M219.0,702.7 L219.0,745.0"/>
<path class="g" d="M82.5,914.0 L82.5,738.0 L148.6,738.0 L148.6,752.0"/>
<circle class="c" cx="148.6" cy="766.4" r="14"/><text class="cb" x="148.6" y="772.4" text-anchor="middle">1</text>
<path class="l" d="M148.6,780.8 L148.6,847.2 L175.4,887.3"/>
<text class="b" x="472.8" y="786.6" textLength="74.7" lengthAdjust="spacingAndGlyphs">88726B</text>
<path class="g" d="M407.5,762.0 L457.6,762.0 L457.6,796.1 L445.9,796.1"/>
<path class="l" d="M457.6,780.4 L471.0,780.4"/>
<circle class="c" cx="432.5" cy="797.1" r="14"/><text class="cb" x="432.5" y="803.1" text-anchor="middle">1</text>
<path class="l" d="M418.5,797.0 L369.0,797.0 L352.4,784.8"/>
<text class="s" x="344.2" y="933.0" textLength="117.7" lengthAdjust="spacingAndGlyphs">88718-26040</text>
<path class="l" d="M304.0,925.7 L339.0,925.7"/>
<circle class="c" cx="292.3" cy="996.9" r="11.5"/><text class="ct" x="292.3" y="1003.7" text-anchor="middle">B</text>
<path class="l" d="M303.8,997.0 L350.7,997.0"/>
<text class="s" x="354.9" y="1002.1" textLength="117.6" lengthAdjust="spacingAndGlyphs">91651-60820</text>
<circle class="c" cx="196.4" cy="1039.3" r="11.5"/><text class="ct" x="196.4" y="1046.1" text-anchor="middle">B</text>
<path class="l" d="M208.0,1039.3 L255.5,1039.3"/>
<text class="s" x="259.1" y="1045.6" textLength="146.9" lengthAdjust="spacingAndGlyphs">91651-60820(2)</text>
<text class="s" x="923.5" y="552.3" textLength="117.4" lengthAdjust="spacingAndGlyphs">88714-95J00</text>
<path class="l" d="M1040.0,547.0 L1085.0,547.0"/>
<text class="s" x="574.2" y="599.6" textLength="117.4" lengthAdjust="spacingAndGlyphs">88718-26860</text>
<path class="l" d="M690.7,594.3 L736.7,594.3"/>
<text class="s" x="555.9" y="626.3" textLength="116.7" lengthAdjust="spacingAndGlyphs">91651-60820</text>
<path class="t" d="M671.7,621.0 L718.3,621.0"/>
<circle class="c" cx="729.0" cy="621.0" r="11.5"/><text class="ct" x="729.0" y="627.8" text-anchor="middle">B</text>
<circle class="c cN" cx="901.0" cy="692.7" r="11.5"/><text class="ct" x="901.0" y="699.5" text-anchor="middle">N</text>
<path class="l" d="M913.0,692.7 L923.3,692.7"/>
<text class="s" x="925.2" y="697.9" textLength="118.0" lengthAdjust="spacingAndGlyphs">90099-05192</text>
<text class="s" x="960.7" y="755.0" textLength="117.7" lengthAdjust="spacingAndGlyphs">88718-26730</text>
<path class="t" d="M925.8,748.0 L958.0,748.0"/>
<text class="s" x="624.4" y="781.0" textLength="116.9" lengthAdjust="spacingAndGlyphs">91651-60820</text>
<path class="l" d="M740.4,775.4 L787.2,775.4"/>
<circle class="c" cx="797.9" cy="775.4" r="11.5"/><text class="ct" x="797.9" y="782.2" text-anchor="middle">B</text>
<circle class="c" cx="897.4" cy="811.2" r="11.5"/><text class="ct" x="897.4" y="818.0" text-anchor="middle">S</text>
<path class="t" d="M909.0,811.2 L947.5,811.2"/>
<text class="s" x="951.7" y="816.8" textLength="117.7" lengthAdjust="spacingAndGlyphs">93315-14012</text>
<text class="s" x="634.4" y="870.2" textLength="146.3" lengthAdjust="spacingAndGlyphs">91651-60614(3)</text>
<path class="l" d="M779.8,864.6 L820.6,864.6"/>
<circle class="c" cx="832.3" cy="864.6" r="11.5"/><text class="ct" x="832.3" y="871.4" text-anchor="middle">B</text>
<text class="s" x="954.0" y="880.2" textLength="117.9" lengthAdjust="spacingAndGlyphs">88898-26010</text>
<path class="l" d="M1010.3,885.0 L1010.3,929.0"/>
<text class="r" x="692.9" y="945.4" textLength="92.5" lengthAdjust="spacingAndGlyphs">REFER TO</text>
<text class="r" x="692.9" y="967.1" textLength="101.9" lengthAdjust="spacingAndGlyphs">FIG 61-51</text>
<text class="r" x="696.2" y="987.1" textLength="113.6" lengthAdjust="spacingAndGlyphs">(PNC 62429)</text>
<path class="l" d="M793.9,960.8 L840.6,960.8"/>
<text class="s" x="888.2" y="1066.6" textLength="118.7" lengthAdjust="spacingAndGlyphs">88898-95J21</text>
<path class="l" d="M945.2,1002.5 L945.2,1049.3"/>
<text class="s" x="995.8" y="1032.2" textLength="118.1" lengthAdjust="spacingAndGlyphs">90480-30015</text>
<path class="l" d="M1052.0,965.8 L1052.0,1015.9"/>
<text class="b" x="1226.3" y="791.8" textLength="74.6" lengthAdjust="spacingAndGlyphs">88722A</text>
<path class="l" d="M1256.2,796.5 L1256.2,809.5"/>
<path class="l" d="M1223.8,821.0 L1223.8,809.5 L1288.3,809.5"/>
<path class="g" d="M1288.3,809.5 L1288.3,905.8"/>
<circle class="c" cx="1223.8" cy="835.0" r="14"/><text class="cb" x="1223.8" y="841.0" text-anchor="middle">2</text>
<text class="n" x="1243.8" y="840.6" textLength="30.8" lengthAdjust="spacingAndGlyphs">-(2)</text>
<path class="t" d="M1223.8,849.0 L1223.8,880.7"/>
<path class="t" d="M1202.5,901.0 L1201.4,947.0"/>
<circle class="c" cx="1201.4" cy="961.0" r="14"/><text class="cb" x="1201.4" y="967.0" text-anchor="middle">1</text>
<text class="n" x="1222.1" y="967.6" textLength="30.1" lengthAdjust="spacingAndGlyphs">-(2)</text>
<path class="t" d="M1201.4,975.0 L1201.4,986.0 L1283.9,986.0 L1283.9,935.9"/>
<path class="l" d="M1242.5,986.0 L1242.5,997.7"/>
<text class="b" x="1213.6" y="1015.7" textLength="74.6" lengthAdjust="spacingAndGlyphs">88721A</text>
<text class="n" x="1483.8" y="1071.2" textLength="75.2" lengthAdjust="spacingAndGlyphs">873533F</text>
</g>
</svg>
</body></html>
